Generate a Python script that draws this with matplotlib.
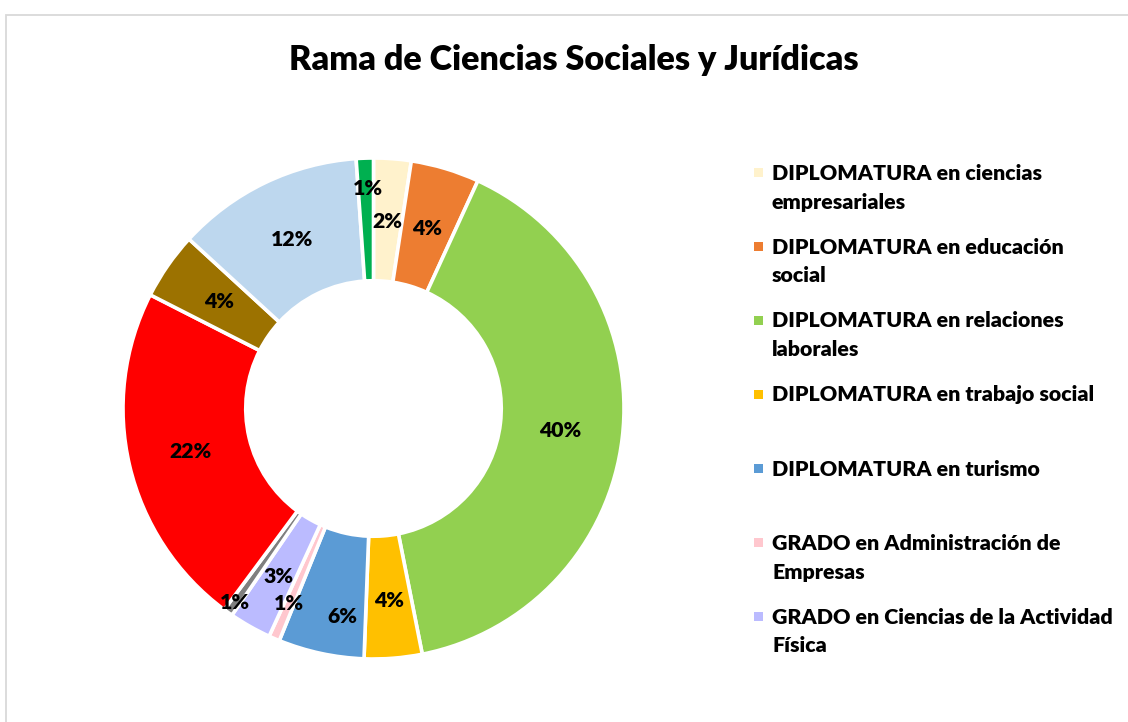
import matplotlib
matplotlib.use("Agg")
import matplotlib.pyplot as plt
from matplotlib.patches import Rectangle
import numpy as np

# ---------------- data ----------------
title = "Rama de Ciencias Sociales y Jurídicas"
categories = [
    "DIPLOMATURA en ciencias empresariales",
    "DIPLOMATURA en educación social",
    "DIPLOMATURA en relaciones laborales",
    "DIPLOMATURA en trabajo social",
    "DIPLOMATURA en turismo",
    "GRADO en Administración de Empresas",
    "GRADO en Ciencias de la Actividad Física",
    "GRADO en Educación Social",
    "LICENCIATURA en Administración y Dirección de Empresas",
    "LICENCIATURA en Ciencias de la Actividad Física y del Deporte",
    "LICENCIATURA en Derecho",
    "LICENCIATURA en Psicopedagogía",
]
legend_labels = [
    "DIPLOMATURA en ciencias\nempresariales",
    "DIPLOMATURA en educación\nsocial",
    "DIPLOMATURA en relaciones\nlaborales",
    "DIPLOMATURA en trabajo social",
    "DIPLOMATURA en turismo",
    "GRADO en Administración de\nEmpresas",
    "GRADO en Ciencias de la Actividad\nFísica",
]
values = [2.4, 4.4, 39.8, 3.7, 5.5, 0.7, 2.7, 0.6, 22.2, 4.3, 12.0, 1.1]
colors = ["#FFF2CC", "#ED7D31", "#92D050", "#FFC000", "#5B9BD5", "#FFC7CE",
          "#BBBBFF", "#7F7F7F", "#FF0000", "#9C7200", "#BDD7EE", "#00B050"]
# label radial positions (style)
label_r = [0.75, 0.75, 0.75, 0.77, 0.84, 0.85, 0.77, 0.95, 0.75, 0.75, 0.75, 0.88]
label_dang = [0, 0, 0, 0, 3.5, 0, 0, 0, 0, 0, 0, -0.5]  # small angular nudges (deg)

FONT = "Lato"
W, H = 1128, 722
fig = plt.figure(figsize=(W / 100, H / 100), dpi=100)

# frame
fig.add_artist(Rectangle((6 / W, -0.01), 1.2, (H - 15) / H + 0.01,
                         transform=fig.transFigure, fill=False,
                         edgecolor="#D9D9D9", lw=1.3))

cx, cy, R = 373.5, 408.5, 250.5
ax = fig.add_axes([(cx - R) / W, (H - cy - R) / H, 2 * R / W, 2 * R / H])
wedges, _ = ax.pie(values, colors=colors, startangle=90, counterclock=False,
                   radius=1.0, wedgeprops=dict(width=0.49, edgecolor="white", linewidth=2.6))
ax.set_xlim(-1, 1)
ax.set_ylim(-1, 1)
ax.set_aspect("equal")
ax.axis("off")

total = sum(values)
for w, v, r, da in zip(wedges, values, label_r, label_dang):
    ang = np.deg2rad((w.theta1 + w.theta2) / 2 + da)
    pct = round(100 * v / total)
    ax.text(r * np.cos(ang), r * np.sin(ang), f"{pct}%", ha="center", va="center",
            fontsize=15.3, fontweight="heavy", family=FONT, color="black")

fig.text(574 / W, 1 - 60 / H, title, ha="center", va="center",
         fontsize=24.6, fontweight="heavy", family=FONT)

# legend (first 7 entries visible, as in reference)
y0, step, line_h = 172, 74, 29
for i, lab in enumerate(legend_labels):
    yc = y0 + step * i
    fig.add_artist(Rectangle((754 / W, 1 - (yc + 4.5) / H), 9 / W, 9 / H,
                             transform=fig.transFigure, facecolor=colors[i], edgecolor="none"))
    for j, line in enumerate(lab.split("\n")):
        fig.text(772 / W, 1 - (yc + 7.5 + line_h * j) / H, line, ha="left", va="baseline",
                 fontsize=15.4, fontweight="heavy", family=FONT)

fig.savefig("out.png", dpi=100, facecolor="white")
